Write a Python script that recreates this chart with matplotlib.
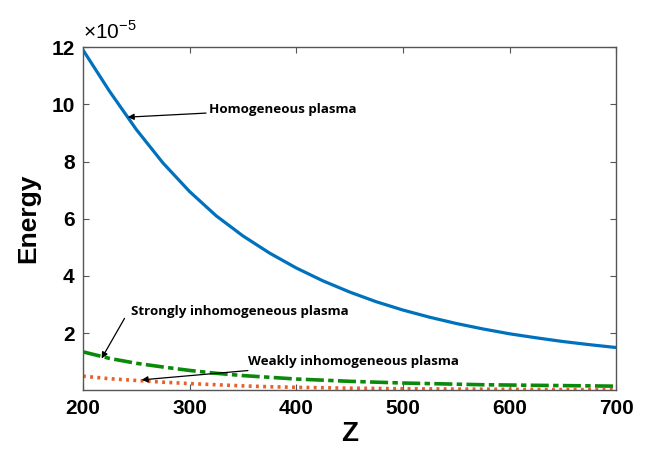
import matplotlib
matplotlib.use('Agg')
import matplotlib.pyplot as plt
from matplotlib.ticker import FuncFormatter

# values (energy in units of 1e-5)
SCALE = 1e-5
z = [200, 225, 250, 275, 300, 325, 350, 375, 400, 425, 450, 475,
     500, 525, 550, 575, 600, 625, 650, 675, 700]
homogeneous = [11.9, 10.45, 9.12, 7.95, 6.95, 6.1, 5.4, 4.8, 4.28, 3.83, 3.44, 3.1,
               2.81, 2.56, 2.34, 2.15, 1.98, 1.84, 1.71, 1.6, 1.5]
strongly = [1.35, 1.12, 0.95, 0.82, 0.70, 0.60, 0.52, 0.46, 0.40, 0.36, 0.32, 0.29,
            0.26, 0.24, 0.22, 0.20, 0.19, 0.18, 0.17, 0.16, 0.15]
weakly = [0.50, 0.41, 0.35, 0.29, 0.24, 0.20, 0.16, 0.13, 0.11, 0.095, 0.08, 0.07,
          0.06, 0.055, 0.05, 0.045, 0.04, 0.035, 0.03, 0.03, 0.03]
xticks = [200, 300, 400, 500, 600, 700]
yticks = [2, 4, 6, 8, 10, 12]

plt.rcParams['font.family'] = ['Liberation Sans', 'DejaVu Sans']
plt.rcParams['mathtext.fontset'] = 'custom'
plt.rcParams['mathtext.rm'] = 'Liberation Sans'

fig = plt.figure(figsize=(6.48, 4.61), dpi=100)
ax = fig.add_axes([0.128, 0.153, 0.823, 0.745])

ax.plot(z, [v * SCALE for v in homogeneous], color='#0072BD', lw=2.3)
ax.plot(z, [v * SCALE for v in strongly], color='#0A8A0A', lw=2.6, ls=(0, (5, 1.2, 1.5, 1.2)))
ax.plot(z, [v * SCALE for v in weakly], color='#E8602C', lw=2.6, ls=(0, (0.8, 1.2)))

ax.set_xlim(200, 700)
ax.set_ylim(0, 12 * SCALE)
ax.set_xticks(xticks)
ax.set_yticks([t * SCALE for t in yticks])
ax.yaxis.set_major_formatter(FuncFormatter(lambda v, p: f'{v / SCALE:.0f}'))

ax.tick_params(direction='in', top=True, right=True, length=4, width=0.8,
               color='#555555', labelsize=15, pad=6)
for lbl in ax.get_xticklabels() + ax.get_yticklabels():
    lbl.set_fontweight('bold')
for s in ax.spines.values():
    s.set_color('#555555')
    s.set_linewidth(1.0)

ax.set_xlabel('Z', fontsize=20, fontweight='bold', labelpad=2)
ax.set_ylabel('Energy', fontsize=19, fontweight='bold', labelpad=8)
ax.text(0.0, 1.012, r'$\times$10$^{\mathrm{-5}}$', transform=ax.transAxes, fontsize=15,
        ha='left', va='bottom')

afont = dict(fontsize=9.6, fontweight='bold', family=['Open Sans', 'DejaVu Sans'])
arrow = dict(arrowstyle='-|>', color='black', lw=0.9, mutation_scale=9, shrinkA=0, shrinkB=0)
ax.annotate('Homogeneous plasma', xy=(242, 9.55 * SCALE), xytext=(318, 9.83 * SCALE),
            ha='left', va='center', arrowprops=arrow, **afont)
ax.annotate('', xy=(217.5, 1.12 * SCALE), xytext=(239, 2.52 * SCALE), arrowprops=arrow)
ax.text(245, 2.77 * SCALE, 'Strongly inhomogeneous plasma', ha='left', va='center', **afont)
ax.annotate('Weakly inhomogeneous plasma', xy=(255, 0.37 * SCALE), xytext=(355, 1.02 * SCALE),
            ha='left', va='center', arrowprops=arrow, **afont)

fig.savefig('out.png', dpi=100)
